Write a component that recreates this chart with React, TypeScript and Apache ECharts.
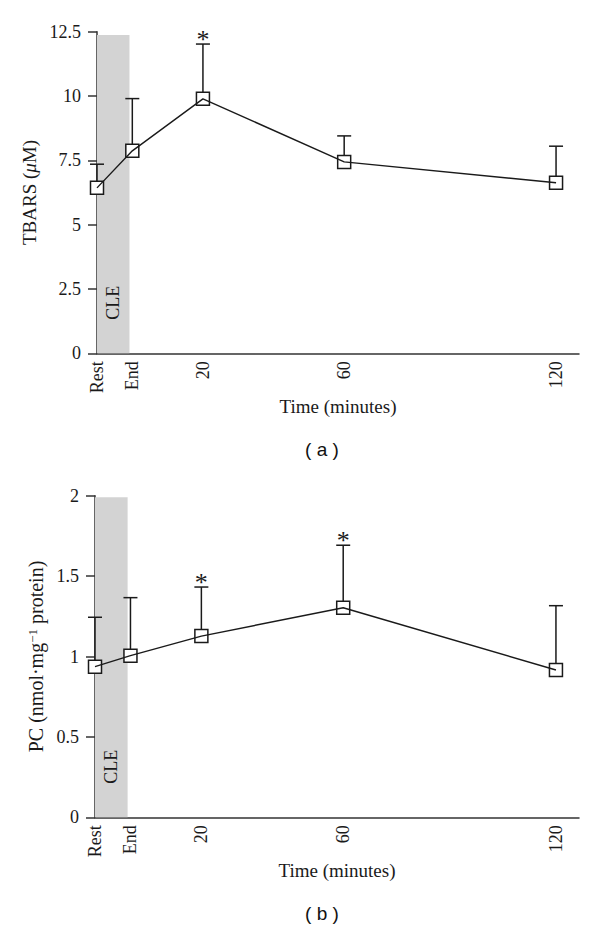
import React, { useEffect, useRef } from "react";
import * as echarts from "echarts";

// ---- data ----
const xValues = [-10, 0, 20, 60, 120];
const xLabels = ["Rest", "End", "20", "60", "120"];

const tbarsMean = [6.43, 7.87, 9.89, 7.44, 6.63];
const tbarsUpper = [7.35, 9.9, 12.02, 8.45, 8.05];
const tbarsSig = [0, 0, 1, 0, 0];

const pcMean = [0.937, 1.005, 1.127, 1.303, 0.916];
const pcUpper = [1.244, 1.366, 1.432, 1.692, 1.316];
const pcSig = [0, 0, 1, 1, 0];

const cleWindow = [-10, -0.8];
const cleTop = [12.37, 1.99];

const tbarsAxis = { min: 0, max: 12.5, interval: 2.5 };
const pcAxis = { min: 0, max: 2, interval: 0.5 };

const SERIF = "'Liberation Serif', 'DejaVu Serif', serif";
const INK = "#1a1a1a";

function makePanel(
  gi: number,
  mean: number[],
  upper: number[],
  sig: number[],
  top: number,
  yMax: number
) {
  const pts = xValues.map((x, i) => [x, mean[i]]);
  const err = xValues.map((x, i) => [x, mean[i], upper[i], sig[i]]);
  return [
    {
      type: "custom",
      xAxisIndex: gi,
      yAxisIndex: gi,
      z: 1,
      silent: true,
      encode: { x: [0, 1], y: [2] },
      data: [[cleWindow[0], cleWindow[1], top]],
      renderItem: (params: any, api: any) => {
        const a = api.coord([api.value(0), api.value(2)]);
        const b = api.coord([api.value(1), 0]);
        const c = api.coord([(api.value(0) + api.value(1)) / 2, yMax * 0.157]);
        return {
          type: "group",
          children: [
            {
              type: "rect",
              shape: { x: a[0], y: a[1], width: b[0] - a[0], height: b[1] - a[1] },
              style: { fill: "#d3d3d3" },
            },
            {
              type: "text",
              x: c[0],
              y: c[1],
              rotation: Math.PI / 2,
              style: {
                text: "CLE",
                fontFamily: SERIF,
                fontSize: 18,
                fill: INK,
                align: "center",
                verticalAlign: "middle",
              },
            },
          ],
        };
      },
    },
    {
      type: "scatter",
      xAxisIndex: gi,
      yAxisIndex: gi,
      z: 3,
      symbol: "rect",
      symbolSize: 13,
      itemStyle: { color: "#ffffff", borderColor: INK, borderWidth: 1.5, opacity: 1 },
      data: pts,
    },
    {
      type: "line",
      xAxisIndex: gi,
      yAxisIndex: gi,
      z: 4,
      showSymbol: false,
      lineStyle: { color: INK, width: 1.4 },
      data: pts,
    },
    {
      type: "custom",
      xAxisIndex: gi,
      yAxisIndex: gi,
      z: 5,
      silent: true,
      encode: { x: 0, y: [1, 2] },
      data: err,
      renderItem: (params: any, api: any) => {
        const x = api.value(0);
        const p0 = api.coord([x, api.value(1)]);
        const p1 = api.coord([x, api.value(2)]);
        const children: any[] = [
          {
            type: "line",
            shape: { x1: p0[0], y1: p0[1] - 6.5, x2: p0[0], y2: p1[1] },
            style: { stroke: INK, lineWidth: 1.5 },
          },
          {
            type: "line",
            shape: { x1: p1[0] - 7, y1: p1[1], x2: p1[0] + 7, y2: p1[1] },
            style: { stroke: INK, lineWidth: 1.5 },
          },
        ];
        if (api.value(3)) {
          children.push({
            type: "text",
            x: p1[0],
            y: p1[1] - 5,
            style: {
              text: "*",
              fontFamily: SERIF,
              fontSize: 26,
              fill: INK,
              align: "center",
              verticalAlign: "middle",
            },
          });
        }
        return { type: "group", children };
      },
    },
  ];
}

function xAxisFor(gi: number) {
  return {
    type: "value",
    gridIndex: gi,
    min: -10,
    max: 126.5,
    axisLine: { show: true, onZero: false, lineStyle: { color: "#333", width: 1.5 } },
    axisTick: { show: false },
    splitLine: { show: false },
    axisLabel: {
      customValues: xValues,
      formatter: (v: number) => {
        const i = xValues.indexOf(v);
        return i >= 0 ? xLabels[i] : "";
      },
      rotate: 90,
      margin: 8,
      fontFamily: SERIF,
      fontSize: 18,
      color: INK,
    },
    name: "Time (minutes)",
    nameLocation: "middle",
    nameGap: 42,
    nameTextStyle: { fontFamily: SERIF, fontSize: 19, color: INK },
  };
}

function yAxisFor(gi: number, ax: any, name: string, rich: any, gap: number, size: number) {
  return {
    type: "value",
    gridIndex: gi,
    min: ax.min,
    max: ax.max,
    interval: ax.interval,
    axisLine: { show: true, onZero: false, lineStyle: { color: "#333", width: 1.5 } },
    axisTick: { show: true, inside: false, length: 9, lineStyle: { color: "#333", width: 1.5 } },
    splitLine: { show: false },
    axisLabel: { margin: 16, fontFamily: SERIF, fontSize: 18, color: INK },
    name,
    nameLocation: "middle",
    nameRotate: 90,
    nameGap: gap,
    nameTextStyle: { fontFamily: SERIF, fontSize: size, color: INK, rich },
  };
}

export default function App() {
  const ref = useRef<HTMLDivElement>(null);
  useEffect(() => {
    if (!ref.current) return;
    const chart = echarts.init(ref.current, null, { renderer: "svg" });
    chart.setOption({
      animation: false,
      backgroundColor: "#ffffff",
      grid: [
        { left: 97, top: 31.7, width: 482, height: 321.6 },
        { left: 95, top: 495.7, width: 484, height: 321.6 },
      ],
      xAxis: [xAxisFor(0), xAxisFor(1)],
      yAxis: [
        yAxisFor(
          0,
          tbarsAxis,
          "TBARS ({i|μ}M)",
          { i: { fontStyle: "italic", fontFamily: SERIF, fontSize: 19, color: INK } },
          54,
          19
        ),
        yAxisFor(
          1,
          pcAxis,
          "PC (nmol·mg{sup|−1} protein)",
          { sup: { fontFamily: SERIF, fontSize: 13, color: INK, verticalAlign: "top" } },
          49,
          20
        ),
      ],
      series: [
        ...makePanel(0, tbarsMean, tbarsUpper, tbarsSig, cleTop[0], tbarsAxis.max),
        ...makePanel(1, pcMean, pcUpper, pcSig, cleTop[1], pcAxis.max),
      ],
      graphic: [
        {
          type: "text",
          x: 322,
          y: 449,
          style: {
            text: "( a )",
            fontFamily: "'Liberation Sans', Arial, sans-serif",
            fontSize: 19,
            fill: "#111",
            align: "center",
            verticalAlign: "middle",
          },
        },
        {
          type: "text",
          x: 322,
          y: 913,
          style: {
            text: "( b )",
            fontFamily: "'Liberation Sans', Arial, sans-serif",
            fontSize: 19,
            fill: "#111",
            align: "center",
            verticalAlign: "middle",
          },
        },
      ],
    });
    return () => chart.dispose();
  }, []);
  return <div ref={ref} style={{ width: 600, height: 934, position: "absolute", left: 0, top: 0 }} />;
}
